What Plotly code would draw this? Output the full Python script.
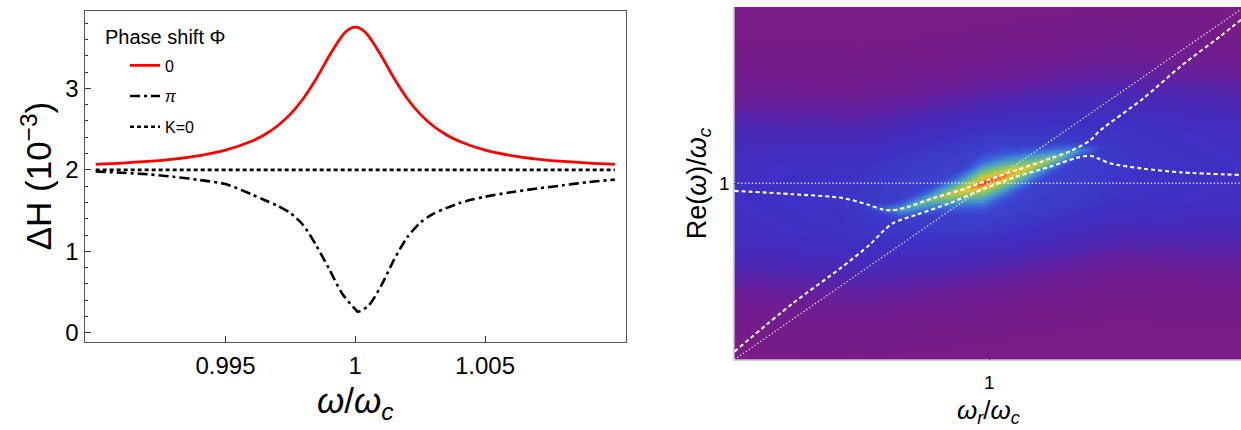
import numpy as np
import plotly.graph_objects as go

W, H = 1241, 430
FONT = "Liberation Sans"

# ---------------- left panel data ----------------
omega_0 = [0.990, 0.991, 0.992, 0.993, 0.994, 0.995, 0.996, 0.9965, 0.997, 0.9975,
           0.998, 0.9985, 0.999, 0.9995, 0.99975, 1.000, 1.00025, 1.0005, 1.001, 1.0015,
           1.002, 1.0025, 1.003, 1.0035, 1.004, 1.005, 1.006, 1.007, 1.008, 1.009, 1.010]
dH_phase0 = [2.067, 2.082, 2.103, 2.132, 2.175, 2.241, 2.350, 2.431, 2.538, 2.683,
             2.875, 3.120, 3.400, 3.647, 3.723, 3.750, 3.723, 3.647, 3.400, 3.120,
             2.875, 2.683, 2.538, 2.431, 2.350, 2.241, 2.175, 2.132, 2.103, 2.082, 2.067]

omega_pi = [0.990, 0.991, 0.992, 0.993, 0.994, 0.995, 0.996, 0.9965, 0.997, 0.9975,
            0.998, 0.9985, 0.999, 0.9995, 1.000, 1.0001, 1.0005, 1.001, 1.0015, 1.002,
            1.0025, 1.003, 1.0035, 1.004, 1.0045, 1.005, 1.006, 1.007, 1.008, 1.009, 1.010]
dH_phasepi = [1.980, 1.965, 1.945, 1.915, 1.875, 1.825, 1.700, 1.630, 1.560, 1.470,
              1.320, 1.070, 0.780, 0.480, 0.290, 0.260, 0.330, 0.580, 0.900, 1.170,
              1.350, 1.460, 1.530, 1.590, 1.635, 1.670, 1.725, 1.770, 1.810, 1.850, 1.880]

omega_k0 = [0.990, 1.010]
dH_k0 = [2.0, 2.0]

legend_title = "Phase shift \u03a6"
legend_names = ["0", "<i>\u03c0</i>", "K=0"]

# ---------------- right panel data ----------------
upper_x = [0.99000, 0.99230, 0.99426, 0.99532, 0.99584, 0.99617, 0.99676, 0.99780,
           0.99911, 1.00003, 1.00108, 1.00238, 1.00317, 1.00395, 1.00434, 1.00601,
           1.00752, 1.00905, 1.00987]
upper_y = [0.99957, 0.99938, 0.99916, 0.99875, 0.99850, 0.99847, 0.99864, 0.99916,
           0.99972, 1.00023, 1.00075, 1.00140, 1.00182, 1.00243, 1.00299, 1.00478,
           1.00665, 1.00833, 1.00927]
lower_x = [0.99000, 0.99230, 0.99415, 0.99532, 0.99584, 0.99624, 0.99715, 0.99846,
           0.99977, 1.00108, 1.00238, 1.00343, 1.00395, 1.00428, 1.00477, 1.00599,
           1.00752, 1.00987]
lower_y = [0.99045, 0.99320, 0.99517, 0.99653, 0.99729, 0.99775, 0.99822, 0.99888,
           0.99968, 1.00038, 1.00094, 1.00144, 1.00156, 1.00140, 1.00112, 1.00084,
           1.00062, 1.00047]
cavity_x = [0.99, 1.00987]
cavity_y = [1.0, 1.0]
magnon_x = [0.99, 1.00987]
magnon_y = [0.99, 1.00987]

# intensity map ingredients (colour level 0..1)
band_cx = [0.990, 0.995, 1.005, 1.00987]
band_cy = [0.9993, 0.9989, 1.0011, 1.0007]
band_sx = [0.990, 0.994, 0.997, 1.000, 1.003, 1.006, 1.00987]
band_level = [0.29, 0.31, 0.34, 0.36, 0.34, 0.31, 0.29]
band_dy = [0.0, 0.002, 0.003, 0.004, 0.005, 0.006, 0.0075, 0.009, 0.03]
band_rel = [1.0, 0.95, 0.85, 0.68, 0.45, 0.25, 0.08, 0.0, 0.0]

ridge_x = [0.99375, 0.99454, 0.99532, 0.99650, 0.99779, 0.99885, 0.99975, 1.00042,
           1.00132, 1.00238, 1.00344, 1.00434, 1.00532, 1.00630, 1.00710]
ridge_y = [0.99890, 0.99880, 0.99860, 0.99851, 0.99911, 0.99956, 1.00002, 1.00037,
           1.00082, 1.00135, 1.00185, 1.00200, 1.00210, 1.00215, 1.00220]
ridge_peak = [0.08, 0.20, 0.36, 0.52, 0.64, 0.80, 1.00, 0.95, 0.82, 0.66, 0.50, 0.34,
              0.22, 0.12, 0.05]
cross_dy = [0.0, 0.00028, 0.00056, 0.00084, 0.00118, 0.00174, 0.0025, 0.004, 0.006, 0.008, 0.03]
cross_rel = [1.0, 0.80, 0.65, 0.54, 0.44, 0.35, 0.27, 0.14, 0.05, 0.0, 0.0]

rainbow = [[0.00, "#781C86"], [0.10, "#6A1E97"], [0.20, "#4F27B3"], [0.30, "#3D30C4"],
           [0.40, "#3A5ADA"], [0.50, "#4696D2"], [0.60, "#6DB98A"], [0.70, "#A6C84F"],
           [0.80, "#DCC634"], [0.90, "#F08A2A"], [1.00, "#DD2C22"]]

# build the intensity table from the read arrays
hx = np.linspace(0.99, 1.00987, 330)
hy = np.linspace(0.99, 1.01, 260)
X, Y = np.meshgrid(hx, hy)
bc = np.interp(X, band_cx, band_cy)
bs = np.interp(X, band_sx, band_level)
band = bs * np.interp(np.abs(Y - bc), band_dy, band_rel)
rc = np.interp(X, ridge_x, ridge_y)
rp = np.interp(X, ridge_x, ridge_peak, left=0.0, right=0.0)
ridge = rp * np.interp(np.abs(Y - rc), cross_dy, cross_rel)
Z = np.maximum(band, ridge)

# ---------------- figure ----------------
def px(x):
    return x / W

def py(y):
    return 1 - y / H

fig = go.Figure()

fig.add_trace(go.Scatter(x=omega_0, y=dH_phase0, mode="lines", name=legend_names[0],
                         line=dict(color="#FF0000", width=2.8, shape="spline", smoothing=0.8),
                         xaxis="x", yaxis="y", legend="legend", hoverinfo="skip"))
fig.add_trace(go.Scatter(x=omega_pi, y=dH_phasepi, mode="lines", name=legend_names[1],
                         line=dict(color="#000000", width=2.6, shape="spline", smoothing=0.8,
                                   dash="10px,4px,3px,4px"),
                         xaxis="x", yaxis="y", legend="legend2", hoverinfo="skip"))
fig.add_trace(go.Scatter(x=omega_k0, y=dH_k0, mode="lines", name=legend_names[2],
                         line=dict(color="#000000", width=2.6, dash="4px,3px"),
                         xaxis="x", yaxis="y", legend="legend3", hoverinfo="skip"))

fig.add_trace(go.Heatmap(x=hx, y=hy, z=Z, colorscale=rainbow, zmin=0, zmax=1,
                         showscale=False, zsmooth="best", xaxis="x2", yaxis="y2",
                         hoverinfo="skip", showlegend=False))
dot_line = dict(color="rgba(255,255,255,0.85)", width=1.3, dash="1.3px,2.2px")
fig.add_trace(go.Scatter(x=cavity_x, y=cavity_y, mode="lines", line=dot_line,
                         xaxis="x2", yaxis="y2", showlegend=False, hoverinfo="skip"))
fig.add_trace(go.Scatter(x=magnon_x, y=magnon_y, mode="lines", line=dot_line,
                         xaxis="x2", yaxis="y2", showlegend=False, hoverinfo="skip"))
dash_line = dict(color="white", width=2.1, dash="4px,3px", shape="spline", smoothing=0.8)
fig.add_trace(go.Scatter(x=upper_x, y=upper_y, mode="lines", line=dash_line,
                         xaxis="x2", yaxis="y2", showlegend=False, hoverinfo="skip"))
fig.add_trace(go.Scatter(x=lower_x, y=lower_y, mode="lines", line=dash_line,
                         xaxis="x2", yaxis="y2", showlegend=False, hoverinfo="skip"))

tickfont = dict(family=FONT, size=24, color="black")
axline = "#555555"

legend_common = dict(font=dict(family=FONT, size=16, color="black"), bgcolor="rgba(0,0,0,0)",
                     borderwidth=0, xanchor="left", yanchor="middle", itemwidth=30,
                     tracegroupgap=0)

fig.update_layout(
    width=W, height=H, margin=dict(l=0, r=0, t=0, b=0),
    paper_bgcolor="white", plot_bgcolor="white",
    showlegend=True,
    legend=dict(x=px(125), y=py(66), **legend_common),
    legend2=dict(x=px(125), y=py(97), **legend_common),
    legend3=dict(x=px(125), y=py(128), **legend_common),
    xaxis=dict(domain=[px(84.5), px(626)], range=[0.98957, 1.01043], anchor="y",
               tickmode="array", tickvals=[0.995, 1.0, 1.005], ticktext=["0.995", "1", "1.005"],
               ticks="inside", ticklen=6, tickwidth=1.2, tickcolor="#333",
               showline=True, mirror=True, linecolor=axline, linewidth=1.4,
               showgrid=False, zeroline=False, tickfont=tickfont, ticklabelstandoff=2),
    yaxis=dict(domain=[py(345), py(11)], range=[-0.11, 3.95], anchor="x",
               tickmode="linear", tick0=0, dtick=1,
               ticks="inside", ticklen=6, tickwidth=1.2, tickcolor="#333",
               minor=dict(tickmode="linear", tick0=0, dtick=0.2, ticks="inside", ticklen=3.5,
                          tickwidth=1, tickcolor="#333", showgrid=False),
               showline=True, mirror=True, linecolor=axline, linewidth=1.4,
               showgrid=False, zeroline=False, tickfont=tickfont),
    xaxis2=dict(domain=[px(734.3), 1.0], range=[0.99, 1.00987], anchor="y2",
                tickmode="array", tickvals=[1.0], ticktext=["1"],
                ticks="inside", ticklen=3, tickcolor="#444",
                showline=True, linecolor="#cccccc", linewidth=1,
                showgrid=False, zeroline=False, ticklabelstandoff=6,
                tickfont=dict(family=FONT, size=19, color="black")),
    yaxis2=dict(domain=[py(363), py(7)], range=[0.99, 1.01], anchor="x2",
                tickmode="array", tickvals=[1.0], ticktext=["1"],
                ticks="inside", ticklen=3, tickcolor="#444",
                showline=True, linecolor="#cccccc", linewidth=1,
                showgrid=False, zeroline=False,
                tickfont=dict(family=FONT, size=19, color="black")),
)

ann = [
    dict(text=legend_title, x=px(103), y=py(37), xanchor="left", yanchor="middle",
         font=dict(family=FONT, size=20, color="black")),
    dict(text="\u0394H (10<sup>\u22123</sup>)", x=px(37), y=py(178), textangle=-90,
         xanchor="center", yanchor="middle", font=dict(family=FONT, size=35, color="black")),
    dict(text="<i>\u03c9</i>/<i>\u03c9</i><sub><i>c</i></sub>", x=px(355), y=py(407),
         xanchor="center", yanchor="middle", font=dict(family=FONT, size=35, color="black")),
    dict(text="Re(<i>\u03c9</i>)/<i>\u03c9</i><sub><i>c</i></sub>", x=px(699), y=py(185),
         textangle=-90, xanchor="center", yanchor="middle",
         font=dict(family=FONT, size=27, color="black")),
    dict(text="<i>\u03c9</i><sub><i>r</i></sub>/<i>\u03c9</i><sub><i>c</i></sub>", x=px(988),
         y=py(415), xanchor="center", yanchor="middle",
         font=dict(family=FONT, size=26, color="black")),
]
for a in ann:
    a.update(xref="paper", yref="paper", showarrow=False)
fig.update_layout(annotations=ann)

fig.write_html("out.html")
